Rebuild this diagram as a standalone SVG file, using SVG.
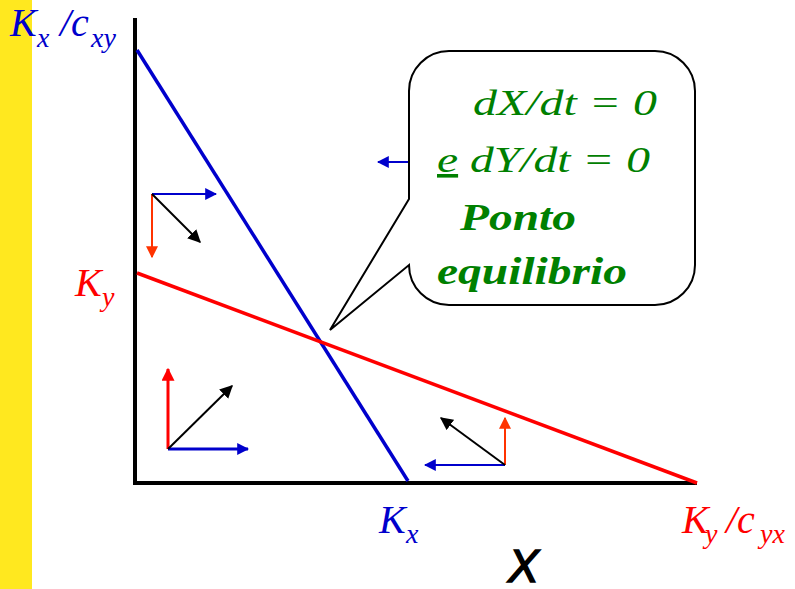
<svg xmlns="http://www.w3.org/2000/svg" width="795" height="589" viewBox="0 0 795 589">
<style>
.lbl{font-family:"Liberation Serif",serif;font-style:italic}
.big{font-size:40px}
.sub{font-size:28px}
.blue{fill:#0000CC}
.red{fill:#FF0000}
.grn{fill:#008000;font-family:"Liberation Serif",serif;font-style:italic;font-size:36px}
.bold{font-weight:bold;font-size:38px}
</style>
<defs>
<marker id="hb" viewBox="0 0 10 10" refX="9" refY="5" markerWidth="12" markerHeight="12" markerUnits="userSpaceOnUse" orient="auto"><path d="M0,0 L10,5 L0,10 Z" fill="#0000CC"/></marker>
<marker id="ho" viewBox="0 0 10 10" refX="9" refY="5" markerWidth="12" markerHeight="12" markerUnits="userSpaceOnUse" orient="auto"><path d="M0,0 L10,5 L0,10 Z" fill="#FF3300"/></marker>
<marker id="hr" viewBox="0 0 10 10" refX="9" refY="5" markerWidth="13" markerHeight="13" markerUnits="userSpaceOnUse" orient="auto"><path d="M0,0 L10,5 L0,10 Z" fill="#FF0000"/></marker>
<marker id="hk" viewBox="0 0 10 10" refX="9" refY="5" markerWidth="13" markerHeight="13" markerUnits="userSpaceOnUse" orient="auto"><path d="M0,0 L10,5 L0,10 Z" fill="#000"/></marker>
</defs>
<rect x="0" y="0" width="795" height="589" fill="#fff"/>
<rect id="bar" x="0" y="0" width="32" height="589" fill="#FFE81F"/>
<g id="axes" stroke="#000" stroke-width="4">
<line x1="135" y1="18" x2="135" y2="485"/>
<line x1="133" y1="483" x2="697" y2="483"/>
</g>
<g id="connectors" fill="none">
<line x1="137" y1="50" x2="408" y2="481" stroke="#0000CC" stroke-width="3.5"/>
<line x1="137" y1="273" x2="697" y2="483" stroke="#FF0000" stroke-width="3.5"/>
<line x1="409" y1="162" x2="378" y2="162" stroke="#0000CC" stroke-width="2" marker-end="url(#hb)"/>
<g id="vec1" stroke-width="2">
<line x1="152" y1="194" x2="216" y2="194" stroke="#0000CC" marker-end="url(#hb)"/>
<line x1="152" y1="194" x2="152" y2="257" stroke="#FF3300" marker-end="url(#ho)"/>
<line x1="152" y1="194" x2="200" y2="242" stroke="#000" marker-end="url(#hk)"/>
</g>
<g id="vec2">
<line x1="168" y1="449" x2="168" y2="369" stroke="#FF0000" stroke-width="3" marker-end="url(#hr)"/>
<line x1="168" y1="449" x2="248" y2="449" stroke="#0000CC" stroke-width="3" marker-end="url(#hb)"/>
<line x1="168" y1="449" x2="232" y2="386" stroke="#000" stroke-width="2" marker-end="url(#hk)"/>
</g>
<g id="vec3" stroke-width="2">
<line x1="505" y1="465" x2="425" y2="465" stroke="#0000CC" marker-end="url(#hb)"/>
<line x1="505" y1="465" x2="505" y2="418" stroke="#FF3300" marker-end="url(#ho)"/>
<line x1="505" y1="465" x2="441" y2="418" stroke="#000" marker-end="url(#hk)"/>
</g>
</g>
<g id="callout">
<path d="M449,51 H655 A40,40 0 0 1 695,91 V265 A40,40 0 0 1 655,305 H449 A40,40 0 0 1 409,265 L330,330 L409,199 V91 A40,40 0 0 1 449,51 Z" fill="#fff" stroke="#000" stroke-width="2"/>
<text class="grn" x="473" y="115" textLength="184" lengthAdjust="spacingAndGlyphs">dX/dt = 0</text>
<text class="grn" x="437" y="172" textLength="213" lengthAdjust="spacingAndGlyphs"><tspan text-decoration="underline">e</tspan> dY/dt = 0</text>
<text class="grn bold" x="460" y="230" textLength="116" lengthAdjust="spacingAndGlyphs">Ponto</text>
<text class="grn bold" x="437" y="284" textLength="190" lengthAdjust="spacingAndGlyphs">equilibrio</text>
</g>
<g id="label-kxcxy" class="lbl blue">
<text class="big" x="10" y="36">K</text>
<text class="sub" x="37" y="47">x</text>
<text class="big" x="60" y="36">/c</text>
<text class="sub" x="91" y="47">xy</text>
</g>
<g id="label-ky" class="lbl red">
<text class="big" x="75" y="296">K</text>
<text class="sub" x="102" y="306">y</text>
</g>
<g id="label-kx" class="lbl blue">
<text class="big" x="379" y="533">K</text>
<text class="sub" x="406" y="543">x</text>
</g>
<g id="label-kycyx" class="lbl red">
<text class="big" x="682" y="533">K</text>
<text class="sub" x="705" y="543">y</text>
<text class="big" x="726" y="533">/c</text>
<text class="sub" x="760" y="543">yx</text>
</g>
<text id="label-x" x="508" y="582" font-family="Liberation Sans, sans-serif" font-style="italic" font-size="46" fill="#000" stroke="#000" stroke-width="1.5">X</text>
</svg>
